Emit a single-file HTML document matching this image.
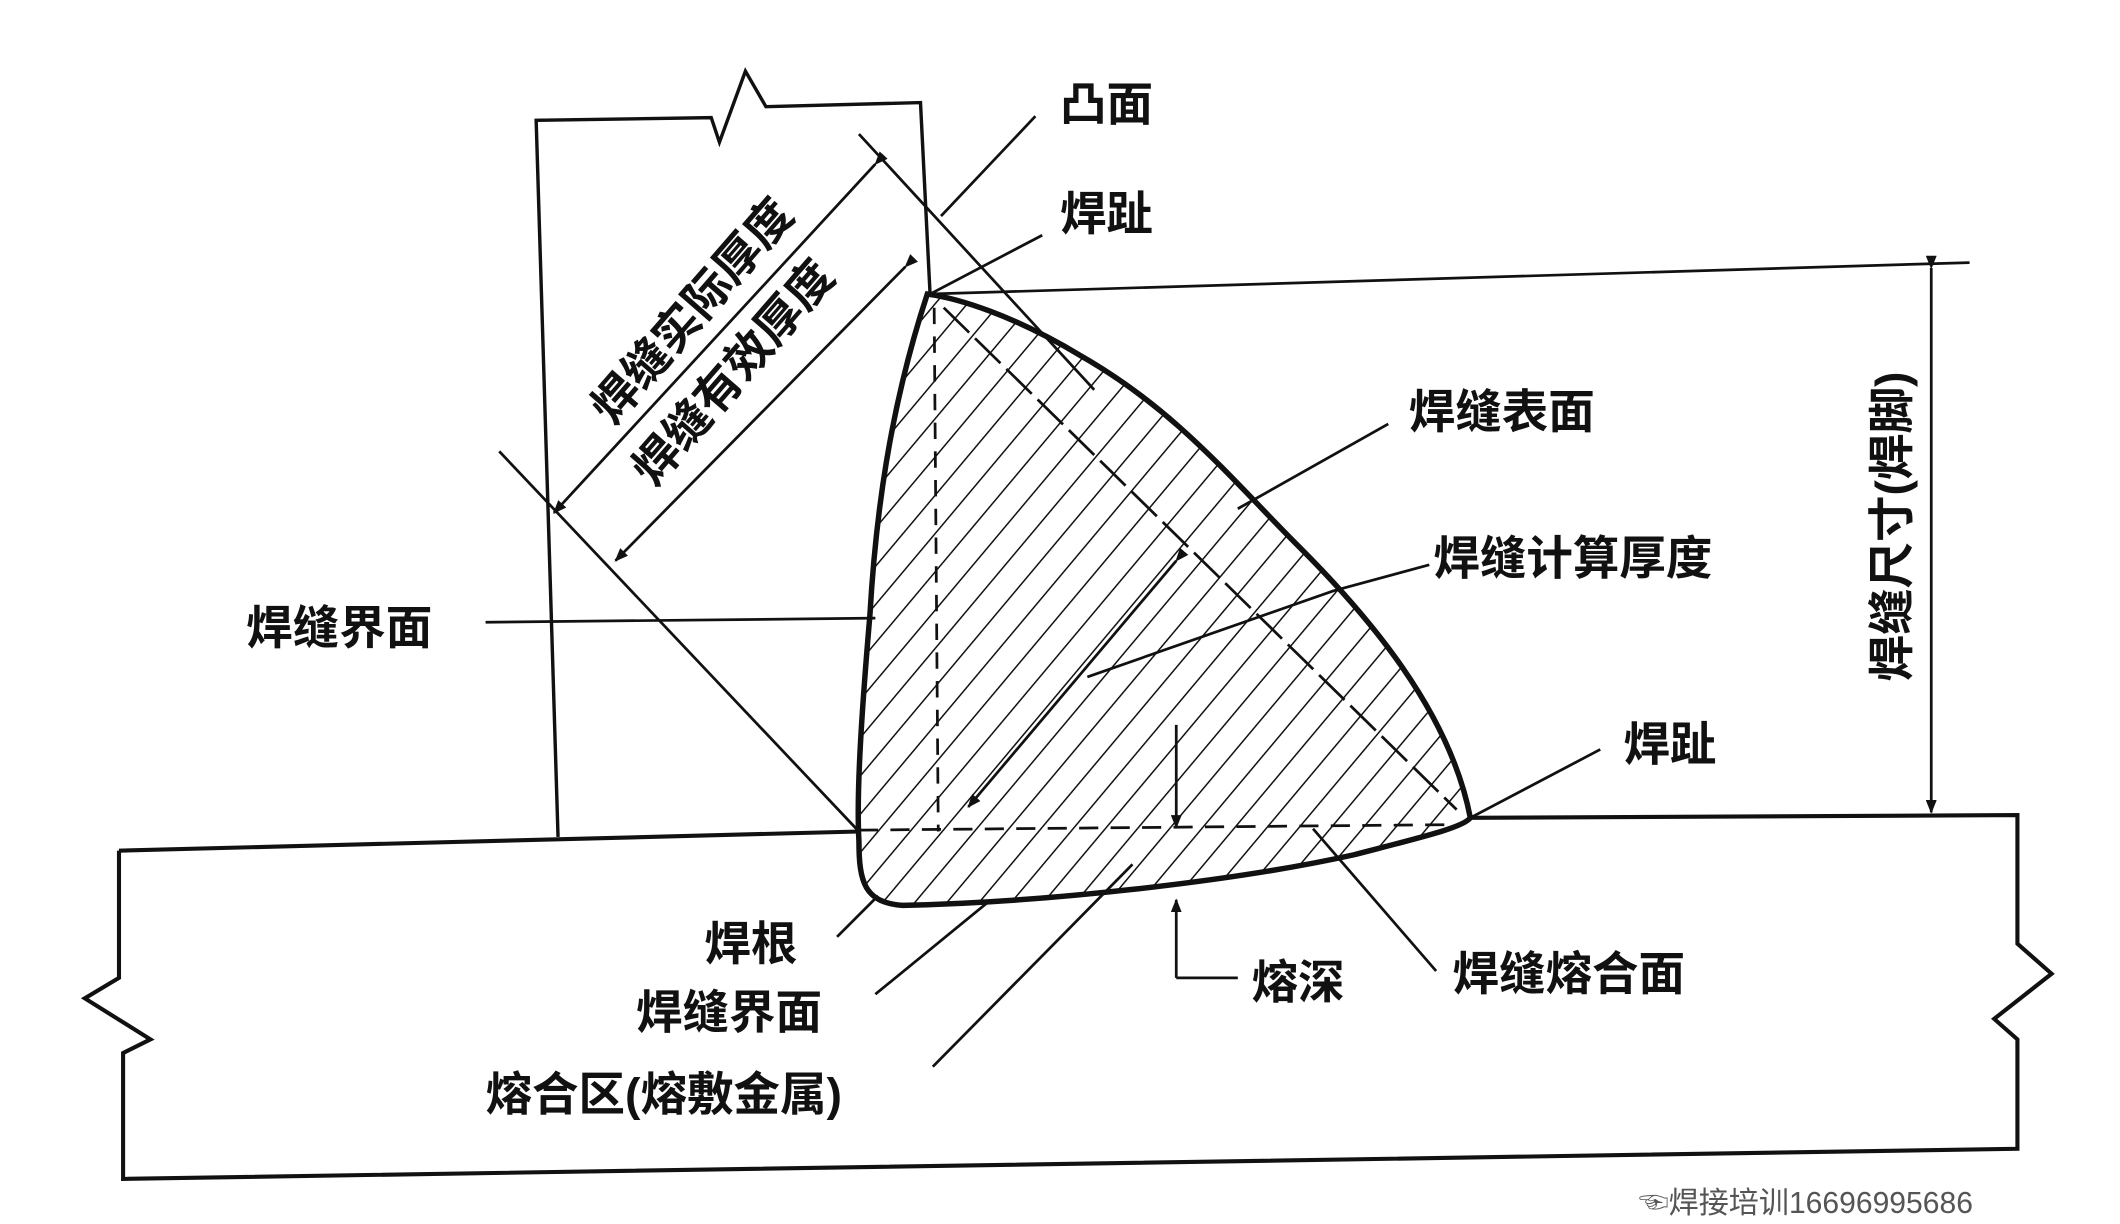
<!DOCTYPE html>
<html><head><meta charset="utf-8"><style>
html,body{margin:0;padding:0;background:#fff;}
svg{display:block;}
text{font-family:"Liberation Sans","Noto Sans CJK SC",sans-serif;font-weight:bold;fill:#111;}
</style></head><body>
<svg width="2120" height="1224" viewBox="0 0 1550 895" preserveAspectRatio="none" xmlns="http://www.w3.org/2000/svg">
<defs>
<pattern id="h" width="18" height="18" patternUnits="userSpaceOnUse" patternTransform="rotate(40)">
<line x1="0" y1="0" x2="0" y2="18" stroke="#111" stroke-width="2.2"/>
</pattern>
<clipPath id="wc"><path d="M678,215 C650,300 640,380 636,450 C630,520 626,580 628,615 C628,645 632,660 660,662 C760,660 900,645 990,625 C1040,612 1070,605 1075,598 C1060,520 1000,450 950,400 C900,350 860,300 790,260 C740,230 700,218 678,215 Z"/></clipPath>
<marker id="a" markerWidth="10" markerHeight="8" refX="9" refY="4" orient="auto" markerUnits="userSpaceOnUse"><path d="M0,0 L10,4 L0,8 Z" fill="#111"/></marker>
</defs>
<rect width="1550" height="895" fill="#fff"/>
<g stroke="#111" fill="none" stroke-width="2.5">
<path d="M408,612 L392,88 L520,86 L526,104 L545,52 L560,78 L673,75 L680,215"/>
<path d="M87,622 L628,608" stroke-width="3"/>
<path d="M1075,598 L1475,596 L1475,690 L1500,712 L1458,745 L1475,760 L1475,840 L90,862 L90,770 L110,760 L62,730 L87,715 L87,622" stroke-width="3"/>
<path d="M680,215 L1440,192" stroke-width="2"/>
</g>
<rect x="600" y="200" width="500" height="480" fill="url(#h)" clip-path="url(#wc)"/>
<path d="M678,215 C650,300 640,380 636,450 C630,520 626,580 628,615 C628,645 632,660 660,662 C760,660 900,645 990,625 C1040,612 1070,605 1075,598 C1060,520 1000,450 950,400 C900,350 860,300 790,260 C740,230 700,218 678,215 Z" fill="none" stroke="#111" stroke-width="4"/>
<g stroke="#111" fill="none" stroke-width="2">
<path d="M683,225 L686,608" stroke-dasharray="12,9"/>
<path d="M628,607 L1060,603" stroke-dasharray="14,9"/>
<path d="M690,225 L1065,592" stroke-dasharray="26,6"/>
<path d="M628,98 L800,285"/>
<path d="M365,330 L628,608"/>
<path d="M640,120 L405,375" marker-end="url(#a)" marker-start="url(#a)"/>
<path d="M662,195 L450,410" marker-end="url(#a)" marker-start="url(#a)"/>
<path d="M860,410 L708,590" marker-end="url(#a)" marker-start="url(#a)"/>
<path d="M757,85 L688,158"/>
<path d="M762,172 L680,215"/>
<path d="M1015,310 L905,372"/>
<path d="M1045,413 L975,432 L795,495"/>
<path d="M355,455 L640,452"/>
<path d="M1170,548 L1075,598"/>
<path d="M1050,710 L960,606"/>
<path d="M612,685 L642,655"/>
<path d="M640,727 L722,660"/>
<path d="M682,780 L828,632"/>
<path d="M860,530 L860,605" marker-end="url(#a)"/>
<path d="M860,715 L860,658" marker-end="url(#a)"/>
<path d="M860,715 L905,715"/>
<path d="M1412,196 L1412,594" marker-end="url(#a)" marker-start="url(#a)"/>
</g>
<g font-size="34">
<text x="775" y="88">凸面</text>
<text x="775" y="168">焊趾</text>
<text x="1030" y="313">焊缝表面</text>
<text x="1048" y="420">焊缝计算厚度</text>
<text x="180" y="471">焊缝界面</text>
<text x="1187" y="556">焊趾</text>
<text x="515" y="702">焊根</text>
<text x="465" y="752">焊缝界面</text>
<text x="355" y="812">熔合区(熔敷金属)</text>
<text x="915" y="730">熔深</text>
<text x="1062" y="724">焊缝熔合面</text>
<text transform="translate(1395,385) rotate(-90)" text-anchor="middle">焊缝尺寸(焊脚)</text>
<text transform="translate(515,235) rotate(-49)" text-anchor="middle">焊缝实际厚度</text>
<text transform="translate(545,280) rotate(-49)" text-anchor="middle">焊缝有效厚度</text>
</g>
<text x="1198" y="887" font-size="22" style="font-weight:normal;fill:#555">☜焊接培训16696995686</text>
</svg>
</body></html>
